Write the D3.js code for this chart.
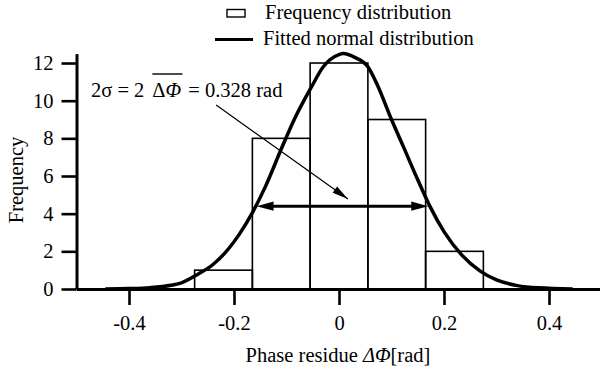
<!DOCTYPE html>
<html>
<head>
<meta charset="utf-8">
<script src="https://cdn.jsdelivr.net/npm/d3@7"></script>
<style>
  body { margin: 0; background: #fff; }
  svg { display: block; }
  text { font-family: "Liberation Serif", "Times New Roman", serif; fill: #000; }
</style>
</head>
<body>
<svg width="600" height="374" font-family="Liberation Serif, serif"></svg>
<script>
// histogram bins (rad) and counts
const binLo = [-0.275, -0.165, -0.055, 0.055, 0.165];
const binHi = [-0.165, -0.055, 0.055, 0.165, 0.275];
const counts = [1, 8, 12, 9, 2];

// fitted normal curve
const curveX = [-0.445, -0.40, -0.36, -0.32, -0.30, -0.268, -0.24, -0.21, -0.19, -0.166, -0.14, -0.109, -0.087, -0.053, -0.03, 0.0, 0.008, 0.03, 0.055, 0.072, 0.10, 0.122, 0.15, 0.173, 0.20, 0.234, 0.269, 0.30, 0.34, 0.38, 0.445];
const curveY = [0, 0.02, 0.07, 0.2, 0.33, 0.8, 1.3, 2.15, 2.9, 4.0, 5.45, 7.5, 8.9, 10.7, 11.8, 12.45, 12.5, 12.3, 11.8, 10.9, 9.0, 7.6, 5.8, 4.4, 3.05, 1.8, 0.95, 0.48, 0.18, 0.06, 0];

// 2 sigma span
const sigmaSpan = [-0.157, 0.17];
const sigmaLevel = 4.4;

const xTicks = [-0.4, -0.2, 0, 0.2, 0.4];
const xTickLabels = ['-0.4', '-0.2', '0', '0.2', '0.4'];
const yTicks = [0, 2, 4, 6, 8, 10, 12];

const svg = d3.select('svg');
const fs = 20.5;

const x = d3.scaleLinear().domain([-0.5, 0.5]).range([76.5, 601.5]);
const y = d3.scaleLinear().domain([0, 12.5]).range([289, 53.6]);

// bars
svg.append('g')
  .selectAll('rect')
  .data(counts)
  .join('rect')
  .attr('x', (d, i) => x(binLo[i]))
  .attr('y', d => y(d))
  .attr('width', (d, i) => x(binHi[i]) - x(binLo[i]))
  .attr('height', d => y(0) - y(d))
  .attr('fill', 'none')
  .attr('stroke', '#000')
  .attr('stroke-width', 1.6);

// fitted curve
const pts = curveX.map((v, i) => [v, curveY[i]]);
svg.append('path')
  .attr('d', d3.line().x(d => x(d[0])).y(d => y(d[1])).curve(d3.curveMonotoneX)(pts))
  .attr('fill', 'none')
  .attr('stroke', '#000')
  .attr('stroke-width', 3.5);

// axes
const yAxis = svg.append('g')
  .attr('transform', `translate(${x(-0.5)},0)`)
  .call(d3.axisLeft(y).tickValues(yTicks).tickSize(15).tickSizeOuter(0).tickPadding(8));
const xAxis = svg.append('g')
  .attr('transform', `translate(0,${y(0)})`)
  .call(d3.axisBottom(x).tickValues(xTicks).tickFormat((d, i) => xTickLabels[i]).tickSize(16).tickSizeOuter(0));

[yAxis, xAxis].forEach(g => {
  g.attr('font-family', null);
  g.select('.domain').attr('stroke-width', 3);
  g.selectAll('.tick line').attr('stroke-width', 2.6);
  g.selectAll('text').attr('font-size', fs);
});
xAxis.selectAll('text').attr('y', 41).attr('dy', null);

// arrowhead helper
function arrowHead(tip, from, len, half) {
  const dx = tip[0] - from[0], dy = tip[1] - from[1];
  const L = Math.hypot(dx, dy);
  const ux = dx / L, uy = dy / L;
  const bx = tip[0] - ux * len, by = tip[1] - uy * len;
  return `M${tip[0]},${tip[1]}L${bx - uy * half},${by + ux * half}L${bx + uy * half},${by - ux * half}Z`;
}

// 2 sigma double arrow
const ay = y(sigmaLevel);
const aL = [x(sigmaSpan[0]), ay], aR = [x(sigmaSpan[1]), ay];
svg.append('line')
  .attr('x1', aL[0] + 10).attr('x2', aR[0] - 10)
  .attr('y1', ay).attr('y2', ay)
  .attr('stroke', '#000').attr('stroke-width', 3);
svg.append('path').attr('d', arrowHead(aL, aR, 17, 4.6));
svg.append('path').attr('d', arrowHead(aR, aL, 17, 4.6));

// pointer from label
const p0 = [x(-0.234), y(9.77)], p1 = [x(0.017), y(4.78)];
svg.append('line')
  .attr('x1', p0[0]).attr('y1', p0[1])
  .attr('x2', p1[0]).attr('y2', p1[1])
  .attr('stroke', '#000').attr('stroke-width', 1.2);
svg.append('path').attr('d', arrowHead(p1, p0, 16, 3.8));

// annotation text
const ann = svg.append('text')
  .attr('x', 91).attr('y', 97)
  .attr('font-size', fs);
ann.append('tspan').text('2σ = 2 ');
const phiPart = ann.append('tspan').attr('dx', 4);
phiPart.append('tspan').text('Δ');
phiPart.append('tspan').attr('font-style', 'italic').text('Φ');
ann.append('tspan').attr('dx', 2).text(' = 0.328 rad');
const pb = phiPart.node().getBBox();
svg.append('line')
  .attr('x1', pb.x).attr('x2', pb.x + pb.width + 1)
  .attr('y1', 74).attr('y2', 74)
  .attr('stroke', '#000').attr('stroke-width', 1.4);

// axis titles
svg.append('text')
  .attr('transform', 'translate(23,180) rotate(-90)')
  .attr('text-anchor', 'middle')
  .attr('font-size', fs)
  .text('Frequency');

const xt = svg.append('text')
  .attr('x', 338).attr('y', 362)
  .attr('text-anchor', 'middle')
  .attr('font-size', fs);
xt.append('tspan').text('Phase residue ');
xt.append('tspan').attr('font-style', 'italic').text('ΔΦ');
xt.append('tspan').text('[rad]');

// legend
const leg = svg.append('g');
leg.append('rect')
  .attr('x', 227).attr('y', 9.5).attr('width', 18).attr('height', 7.5)
  .attr('fill', 'none').attr('stroke', '#000').attr('stroke-width', 1.4);
leg.append('text').attr('x', 265).attr('y', 19).attr('font-size', fs).text('Frequency distribution');
leg.append('line')
  .attr('x1', 215).attr('x2', 253).attr('y1', 39.5).attr('y2', 39.5)
  .attr('stroke', '#000').attr('stroke-width', 3.2);
leg.append('text').attr('x', 263).attr('y', 45).attr('font-size', fs).text('Fitted normal distribution');
</script>
</body>
</html>
